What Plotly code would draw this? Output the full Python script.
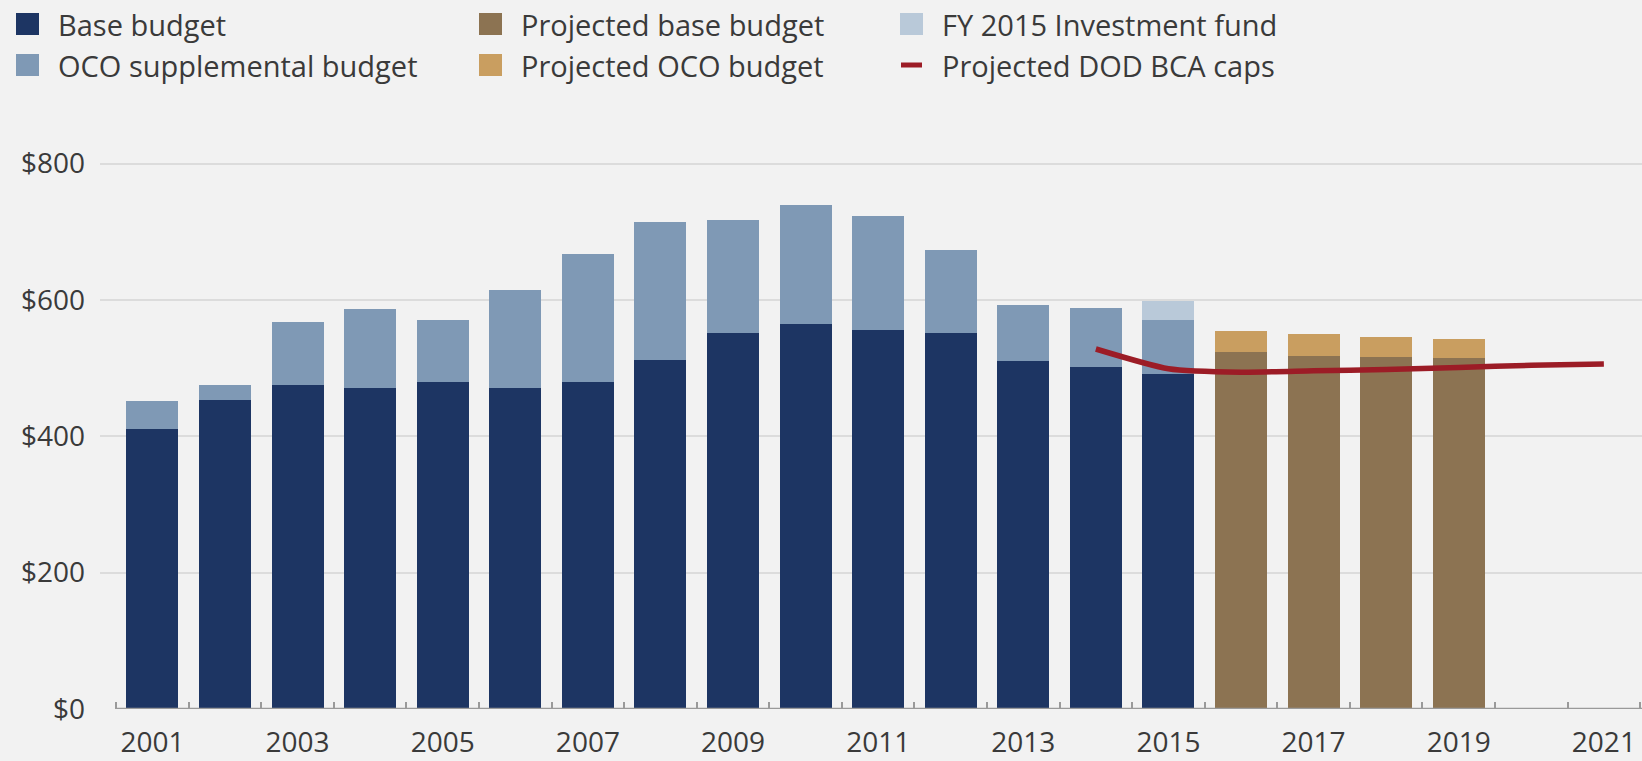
import plotly.graph_objects as go

# Fiscal years shown on the axis
years = list(range(2001, 2022))
bar_years = list(range(2001, 2016))
proj_years = [2016, 2017, 2018, 2019]
cap_years = [2014, 2015, 2016, 2017, 2018, 2019, 2020, 2021]

# Budget authority, billions of dollars
base_budget = [410, 453, 475, 471, 479, 471, 479, 512, 551, 565, 556, 552, 510, 501, 492]
oco_budget = [42, 22, 93, 115, 92, 144, 189, 202, 166, 174, 167, 121, 83, 87, 79]
investment_fund = [None] * 14 + [27]
proj_base = [524, 518, 517, 515]
proj_oco = [30, 32, 28, 27]
bca_caps = [528, 499, 494, 496, 498, 501, 504, 506]

y_ticks = [0, 200, 400, 600, 800]
y_labels = ["$0", "$200", "$400", "$600", "$800"]
x_ticks = list(range(2001, 2022, 2))
x_labels = [str(y) for y in x_ticks]

C_BASE = "#1d3563"
C_OCO = "#7f99b5"
C_FUND = "#b9c9d9"
C_PBASE = "#8c7352"
C_POCO = "#c99e60"
C_CAP = "#9c1c26"
TEXT = "#3a3a3a"
FONT = "Open Sans"

W, H = 1642, 761
L, R, T, B = 100, 0, 109, 52
PW, PH = W - L - R, H - T - B

fig = go.Figure()
fig.add_bar(x=bar_years, y=base_budget, marker_color=C_BASE, name="Base budget")
fig.add_bar(x=bar_years, y=oco_budget, marker_color=C_OCO, name="OCO supplemental budget")
fig.add_bar(x=bar_years, y=investment_fund, marker_color=C_FUND, name="FY 2015 Investment fund")
fig.add_bar(x=proj_years, y=proj_base, marker_color=C_PBASE, name="Projected base budget")
fig.add_bar(x=proj_years, y=proj_oco, marker_color=C_POCO, name="Projected OCO budget")
fig.add_scatter(x=cap_years, y=bca_caps, mode="lines", name="Projected DOD BCA caps",
                line=dict(color=C_CAP, width=5.5, shape="spline", smoothing=0.6))
fig.update_traces(selector=dict(type="bar"), marker_line_width=0)

# boundary ticks between categories on an overlaid axis
boundaries = [y - 0.5 for y in range(2001, 2023)]
fig.add_scatter(x=[2001], y=[None], xaxis="x2", showlegend=False, hoverinfo="skip")

x_range = [2000.277, 2000.277 + PW / 72.57]

fig.update_layout(
    width=W, height=H,
    margin=dict(l=L, r=R, t=T, b=B, pad=0),
    barmode="stack", bargap=0.283,
    showlegend=False,
    paper_bgcolor="#f2f2f2", plot_bgcolor="#f2f2f2",
    font=dict(family=FONT, color=TEXT, size=28),
    xaxis=dict(range=x_range, tickvals=x_ticks, ticktext=x_labels, ticks="",
               showgrid=False, zeroline=False, showline=False,
               tickfont=dict(size=28, color=TEXT), ticklabelstandoff=14,
               automargin=False),
    xaxis2=dict(overlaying="x", matches="x", tickvals=boundaries, ticks="inside",
                ticklen=7, tickwidth=1.5, tickcolor="#9a9a9a", showticklabels=False,
                showgrid=False, zeroline=False, showline=False, side="bottom",
                automargin=False),
    yaxis=dict(range=[0, 880], tickvals=y_ticks, ticktext=y_labels, ticks="",
               showgrid=True, gridcolor="#dcdcdc", gridwidth=2, zeroline=False,
               showline=False, tickfont=dict(size=28, color=TEXT),
               ticklabelstandoff=14, automargin=False),
)

# baseline of the category axis
fig.add_shape(type="line", xref="x", yref="y", x0=2000.5, x1=x_range[1], y0=0, y1=0,
              line=dict(color="#9a9a9a", width=2.5), layer="above")


def px(x):
    return (x - L) / PW


def py(y):
    return (H - B - y) / PH


# legend: three columns, two rows
legend_items = [
    ("Base budget", C_BASE, "box", 16, 24),
    ("OCO supplemental budget", C_OCO, "box", 16, 65),
    ("Projected base budget", C_PBASE, "box", 479, 24),
    ("Projected OCO budget", C_POCO, "box", 479, 65),
    ("FY 2015 Investment fund", C_FUND, "box", 900, 24),
    ("Projected DOD BCA caps", C_CAP, "line", 900, 65),
]
for label, color, kind, x0, yc in legend_items:
    if kind == "box":
        fig.add_shape(type="rect", xref="paper", yref="paper",
                      x0=px(x0), x1=px(x0 + 23), y0=py(yc + 11), y1=py(yc - 11),
                      fillcolor=color, line=dict(width=0))
    else:
        fig.add_shape(type="line", xref="paper", yref="paper",
                      x0=px(x0 + 1), x1=px(x0 + 22), y0=py(yc), y1=py(yc),
                      line=dict(color=color, width=5))
    fig.add_annotation(text=label, xref="paper", yref="paper", x=px(x0 + 40), y=py(yc),
                       xanchor="left", yanchor="middle", showarrow=False,
                       font=dict(size=29, color=TEXT, family=FONT))

fig.write_html("out.html")
